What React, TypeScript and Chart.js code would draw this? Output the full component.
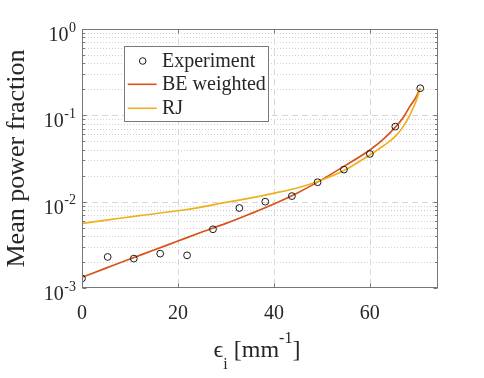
import React, { useEffect, useRef } from 'react';
import { Chart, registerables } from 'chart.js';
Chart.register(...registerables);

const expX = [0, 5.35, 10.8, 16.3, 21.9, 27.3, 32.8, 38.2, 43.75, 49.1, 54.6, 60.0, 65.3, 70.5];
const expY = [1.29e-3, 2.29e-3, 2.19e-3, 2.5e-3, 2.39e-3, 4.79e-3, 8.45e-3, 1.0e-2, 1.16e-2, 1.68e-2, 2.35e-2, 3.57e-2, 7.4e-2, 0.206];

const beX = [0, 5, 10, 15, 20, 25, 30, 35, 40, 45, 50, 55, 60, 63, 65.4, 67, 68.3, 69.5, 70.5];
const beY = [1.33e-3, 1.7e-3, 2.17e-3, 2.75e-3, 3.5e-3, 4.45e-3, 5.6e-3, 7.2e-3, 9.4e-3, 1.27e-2, 1.8e-2, 2.65e-2, 3.97e-2, 5.4e-2, 7.4e-2, 9.5e-2, 0.126, 0.158, 0.206];

const rjX = [0, 5, 12, 20.4, 24.6, 30, 35, 39.9, 45, 49.6, 54.6, 60, 63, 65.4, 67, 68.3, 69.5, 70.5];
const rjY = [5.6e-3, 6.1e-3, 6.9e-3, 7.9e-3, 8.6e-3, 9.8e-3, 1.1e-2, 1.25e-2, 1.45e-2, 1.75e-2, 2.29e-2, 3.48e-2, 4.5e-2, 5.77e-2, 7.5e-2, 0.1, 0.14, 0.206];

const xTicks = [0, 20, 40, 60];
const yTicks = [1e-3, 1e-2, 1e-1, 1];
const yTickExps = ['-3', '-2', '-1', '0'];
const legendLabels = ['Experiment', 'BE weighted', 'RJ'];

const RED = '#D95319';
const ORANGE = '#EDB120';
const TXT = '#262626';
const FONT = "'Liberation Serif', 'DejaVu Serif', serif";

const matlabPlugin = {
  id: 'matlabLook',
  beforeDatasetsDraw(chart: any) {
    const { ctx, chartArea: a, scales } = chart;
    const x = scales.x, y = scales.y;
    ctx.save();
    ctx.lineWidth = 1;
    // minor dotted y grid
    ctx.strokeStyle = '#d2d2d2';
    ctx.setLineDash([1, 2]);
    for (let e = -3; e < 0; e++) {
      for (let k = 2; k <= 9; k++) {
        const py = Math.round(y.getPixelForValue(k * Math.pow(10, e))) + 0.5;
        ctx.beginPath(); ctx.moveTo(a.left, py); ctx.lineTo(a.right, py); ctx.stroke();
      }
    }
    // major dashed grid
    ctx.strokeStyle = '#d6d6d6';
    ctx.setLineDash([6, 4]);
    yTicks.forEach((v) => {
      if (v <= 1e-3 || v >= 1) return;
      const py = Math.round(y.getPixelForValue(v)) + 0.5;
      ctx.beginPath(); ctx.moveTo(a.left, py); ctx.lineTo(a.right, py); ctx.stroke();
    });
    xTicks.forEach((v) => {
      if (v <= 0) return;
      const px = Math.round(x.getPixelForValue(v)) + 0.5;
      ctx.beginPath(); ctx.moveTo(px, a.top); ctx.lineTo(px, a.bottom); ctx.stroke();
    });
    ctx.restore();
  },
  afterDraw(chart: any) {
    const { ctx, chartArea: a, scales } = chart;
    const x = scales.x, y = scales.y;
    ctx.save();
    // box
    ctx.strokeStyle = '#767676';
    ctx.lineWidth = 1;
    ctx.setLineDash([]);
    const L = Math.round(a.left) + 0.5, R = Math.round(a.right) - 0.5;
    const T = Math.round(a.top) + 0.5, B = Math.round(a.bottom) - 0.5;
    ctx.strokeRect(L, T, R - L, B - T);
    // inward ticks
    ctx.beginPath();
    for (let e = -3; e <= 0; e++) {
      for (let k = 1; k <= 9; k++) {
        const v = k * Math.pow(10, e);
        if (v > 1) break;
        const py = Math.round(y.getPixelForValue(v)) + 0.5;
        const len = k === 1 ? 4 : 2.5;
        ctx.moveTo(L, py); ctx.lineTo(L + len, py);
        ctx.moveTo(R, py); ctx.lineTo(R - len, py);
      }
    }
    xTicks.forEach((v) => {
      const px = Math.round(x.getPixelForValue(v)) + 0.5;
      ctx.moveTo(px, B); ctx.lineTo(px, B - 4);
      ctx.moveTo(px, T); ctx.lineTo(px, T + 4);
    });
    ctx.stroke();

    ctx.fillStyle = TXT;
    ctx.textBaseline = 'alphabetic';
    // x tick labels
    ctx.font = `20px ${FONT}`;
    ctx.textAlign = 'center';
    xTicks.forEach((v) => {
      ctx.fillText(String(v), x.getPixelForValue(v), 318.5);
    });
    // y tick labels 10^n
    yTicks.forEach((v, i) => {
      const py = y.getPixelForValue(v);
      ctx.font = `20px ${FONT}`;
      const w10 = ctx.measureText('10').width;
      ctx.font = `14px ${FONT}`;
      const ws = ctx.measureText(yTickExps[i]).width;
      const right = 75.5;
      const x0 = right - ws - w10;
      ctx.textAlign = 'left';
      ctx.font = `20px ${FONT}`;
      ctx.fillText('10', x0, py + 12);
      ctx.font = `14px ${FONT}`;
      ctx.fillText(yTickExps[i], x0 + w10 + 0.5, py + 2.5);
    });

    // x title: ϵ_i [mm^-1]
    const parts = [
      { t: '\u03F5', f: 24, dy: 0 },
      { t: 'i', f: 16, dy: 12 },
      { t: ' [mm', f: 24, dy: 0 },
      { t: '-1', f: 16, dy: -14 },
      { t: ']', f: 24, dy: 0 },
    ];
    let total = 0;
    const widths = parts.map((p) => { ctx.font = `${p.f}px ${FONT}`; const w = ctx.measureText(p.t).width; total += w; return w; });
    let cx = 257 - total / 2;
    ctx.textAlign = 'left';
    parts.forEach((p, i) => {
      ctx.font = `${p.f}px ${FONT}`;
      ctx.fillText(p.t, cx, 357 + p.dy);
      cx += widths[i];
    });

    // y title
    ctx.save();
    ctx.translate(24, (a.top + a.bottom) / 2);
    ctx.rotate(-Math.PI / 2);
    ctx.textAlign = 'center';
    ctx.font = `26px ${FONT}`;
    ctx.fillText('Mean power fraction', 0, 0);
    ctx.restore();

    // legend
    ctx.fillStyle = '#ffffff';
    ctx.fillRect(124.5, 46.5, 144, 75);
    ctx.strokeStyle = '#7a7a7a';
    ctx.lineWidth = 1;
    ctx.strokeRect(124.5, 46.5, 144, 75);
    // experiment marker
    ctx.strokeStyle = '#1a1a1a';
    ctx.beginPath();
    ctx.arc(142.7, 61, 3.3, 0, Math.PI * 2);
    ctx.stroke();
    ctx.lineWidth = 1.6;
    ctx.strokeStyle = RED;
    ctx.beginPath(); ctx.moveTo(127.7, 84.3); ctx.lineTo(156.7, 84.3); ctx.stroke();
    ctx.strokeStyle = ORANGE;
    ctx.beginPath(); ctx.moveTo(127.7, 108.3); ctx.lineTo(156.7, 108.3); ctx.stroke();
    ctx.fillStyle = TXT;
    ctx.font = `20px ${FONT}`;
    ctx.textAlign = 'left';
    ctx.fillText(legendLabels[0], 162, 66.7);
    ctx.fillText(legendLabels[1], 162, 90);
    ctx.fillText(legendLabels[2], 162, 113.5);
    ctx.restore();
  },
};

export default function App() {
  const ref = useRef<HTMLCanvasElement | null>(null);
  useEffect(() => {
    if (!ref.current) return;
    const chart = new Chart(ref.current, {
      type: 'scatter',
      data: {
        datasets: [
          {
            label: legendLabels[0],
            data: expX.map((v, i) => ({ x: v, y: expY[i] })),
            showLine: false,
            pointStyle: 'circle',
            pointRadius: 3.4,
            pointBorderWidth: 1,
            borderColor: '#1a1a1a',
            backgroundColor: 'rgba(0,0,0,0)',
            order: 0,
          },
          {
            label: legendLabels[1],
            data: beX.map((v, i) => ({ x: v, y: beY[i] })),
            showLine: true,
            borderColor: RED,
            borderWidth: 1.7,
            pointRadius: 0,
            cubicInterpolationMode: 'monotone',
            order: 2,
          },
          {
            label: legendLabels[2],
            data: rjX.map((v, i) => ({ x: v, y: rjY[i] })),
            showLine: true,
            borderColor: ORANGE,
            borderWidth: 1.7,
            pointRadius: 0,
            cubicInterpolationMode: 'monotone',
            order: 1,
          },
        ],
      },
      options: {
        animation: false,
        responsive: false,
        maintainAspectRatio: false,
        layout: { padding: { top: 29, right: 46, left: 0, bottom: 0 } },
        plugins: { legend: { display: false }, tooltip: { enabled: false } },
        scales: {
          x: {
            type: 'linear',
            min: 0,
            max: 74.2,
            ticks: { display: false },
            grid: { display: false },
            border: { display: false },
            afterFit: (s: any) => { s.height = 90; },
          },
          y: {
            type: 'logarithmic',
            min: 1e-3,
            max: 1,
            ticks: { display: false },
            grid: { display: false },
            border: { display: false },
            afterFit: (s: any) => { s.width = 82; },
          },
        },
      },
      plugins: [matlabPlugin],
    } as any);
    return () => chart.destroy();
  }, []);
  return (
    <div style={{ position: 'fixed', left: 0, top: 0, width: 484, height: 378, background: '#fff' }}>
      <canvas ref={ref} width={484} height={378} style={{ display: 'block' }} />
    </div>
  );
}
